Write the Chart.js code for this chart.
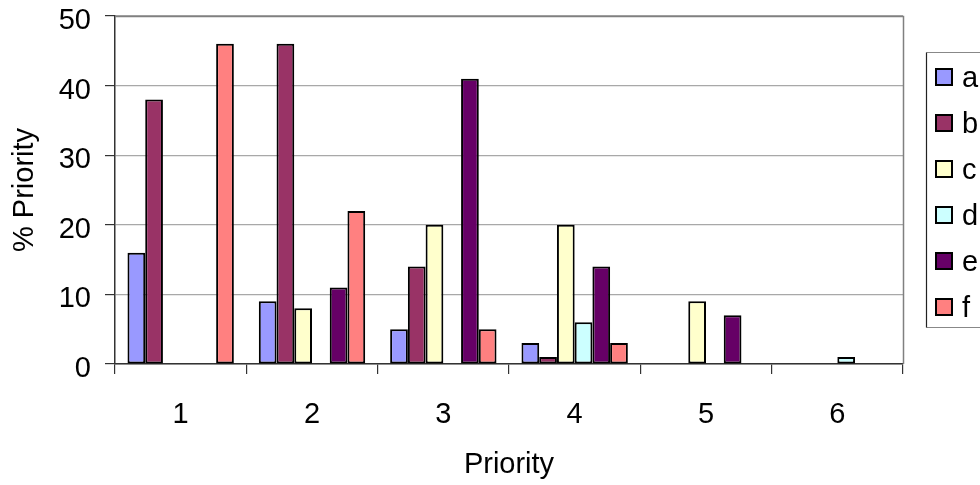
<!DOCTYPE html>
<html>
<head>
<meta charset="utf-8">
<script src="https://cdn.jsdelivr.net/npm/chart.js@4"></script>
<style>
  html, body { margin: 0; padding: 0; background: #fff; }
  #wrap { width: 980px; height: 485px; }
</style>
</head>
<body>
<div id="wrap"><canvas id="c" width="980" height="485"></canvas></div>
<script>
const categories = ['1', '2', '3', '4', '5', '6'];
const seriesA = [16, 9, 5, 3, 0, 0];
const seriesB = [38, 46, 14, 1, 0, 0];
const seriesC = [0, 8, 20, 20, 9, 0];
const seriesD = [0, 0, 0, 6, 0, 1];
const seriesE = [0, 11, 41, 14, 7, 0];
const seriesF = [46, 22, 5, 3, 0, 0];
const seriesLabels = ['a', 'b', 'c', 'd', 'e', 'f'];
const seriesColors = ['#9999FF', '#993366', '#FFFFCC', '#CCFFFF', '#660066', '#FF8080'];
const yTicks = [0, 10, 20, 30, 40, 50];

const FONT = "'Liberation Sans', Arial, sans-serif";
const allSeries = [seriesA, seriesB, seriesC, seriesD, seriesE, seriesF];

const datasets = allSeries.map((vals, i) => ({
  label: seriesLabels[i],
  data: vals,
  backgroundColor: seriesColors[i],
  borderColor: '#000',
  borderWidth: ctx => (ctx.raw === 0 ? 0 : 2),
  borderSkipped: false,
  categoryPercentage: 0.81,
  barPercentage: 1.0
}));

const frameAndLegend = {
  id: 'frameAndLegend',
  afterDraw(chart) {
    const ctx = chart.ctx;
    const a = chart.chartArea;
    ctx.save();
    ctx.strokeStyle = '#808080';
    ctx.lineWidth = 1.5;
    ctx.beginPath();
    ctx.moveTo(a.left, a.top + 0.5);
    ctx.lineTo(a.right + 0.5, a.top + 0.5);
    ctx.lineTo(a.right + 0.5, a.bottom);
    ctx.stroke();

    const lx = 926.5, ly = 52.5, lb = 327.5;
    ctx.lineWidth = 1.2;
    ctx.strokeStyle = '#888';
    ctx.beginPath();
    ctx.moveTo(lx, ly); ctx.lineTo(990, ly);
    ctx.moveTo(lx, lb); ctx.lineTo(990, lb);
    ctx.stroke();
    ctx.strokeStyle = '#222';
    ctx.beginPath();
    ctx.moveTo(lx, ly); ctx.lineTo(lx, lb);
    ctx.stroke();

    const ds = chart.data.datasets;
    const y0 = 77, step = 46;
    ctx.font = '29px ' + FONT;
    ctx.textBaseline = 'middle';
    ctx.textAlign = 'left';
    ds.forEach((d, i) => {
      const cy = y0 + i * step;
      ctx.fillStyle = d.backgroundColor;
      ctx.fillRect(936, cy - 8, 16, 16);
      ctx.strokeStyle = '#000';
      ctx.lineWidth = 2;
      ctx.strokeRect(936, cy - 8, 16, 16);
      ctx.fillStyle = '#000';
      ctx.fillText(d.label, 962, cy + 2);
    });
    ctx.restore();
  }
};

new Chart(document.getElementById('c'), {
  type: 'bar',
  data: { labels: categories, datasets },
  options: {
    responsive: false,
    animation: false,
    devicePixelRatio: 1,
    layout: { padding: { left: 0, top: 16, right: 77, bottom: 0 } },
    plugins: {
      legend: { display: false },
      tooltip: { enabled: false }
    },
    scales: {
      x: {
        grid: {
          offset: true,
          drawOnChartArea: false,
          drawTicks: true,
          tickLength: 10,
          tickColor: '#333',
          lineWidth: 1.2
        },
        border: { color: '#333', width: 1.5 },
        ticks: {
          color: '#000',
          font: { family: FONT, size: 29 },
          padding: 24,
          maxRotation: 0
        },
        title: {
          display: true,
          text: 'Priority',
          color: '#000',
          font: { family: FONT, size: 29 },
          padding: { top: 0, bottom: 3 }
        },
        afterFit(scale) { scale.height = 121; scale.paddingLeft = 0; scale.paddingRight = 0; }
      },
      y: {
        min: 0,
        max: 50,
        afterBuildTicks(scale) { scale.ticks = yTicks.map(v => ({ value: v })); },
        grid: {
          color: '#a8a8a8',
          lineWidth: 1.2,
          tickLength: 10,
          tickColor: '#333'
        },
        border: { color: '#333', width: 1.5 },
        ticks: {
          color: '#000',
          font: { family: FONT, size: 29 },
          padding: 14,
          labelOffset: 5
        },
        title: {
          display: true,
          text: '% Priority',
          color: '#000',
          font: { family: FONT, size: 29 },
          padding: { top: 8, bottom: 0 }
        },
        afterFit(scale) { scale.width = 115; scale.paddingTop = 0; scale.paddingBottom = 0; }
      }
    }
  },
  plugins: [frameAndLegend]
});
</script>
</body>
</html>
